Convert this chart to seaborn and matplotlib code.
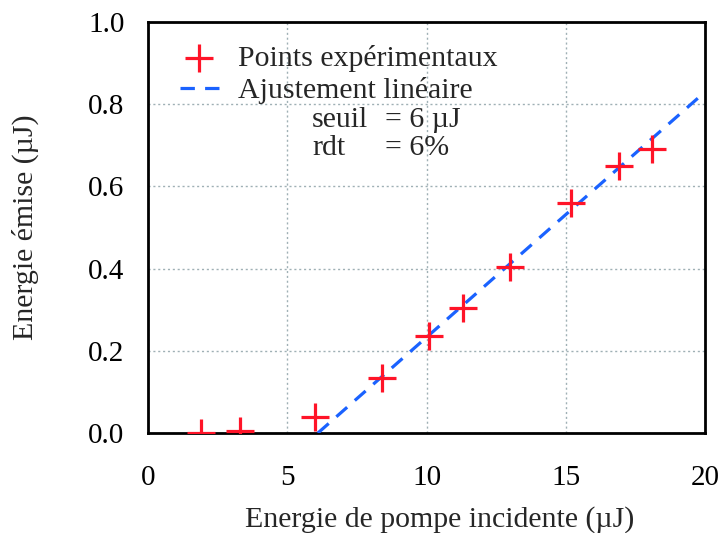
import matplotlib
matplotlib.use("Agg")
import matplotlib.pyplot as plt
import seaborn as sns

# Data
pompe = [1.9, 3.3, 6.0, 8.4, 10.1, 11.3, 13.0, 15.2, 16.9, 18.1]
emise = [0.0, 0.005, 0.04, 0.135, 0.235, 0.305, 0.405, 0.56, 0.65, 0.69]

fit_x = [6.1, 20.0]
fit_y = [0.0, 0.83]

x_ticks = [0, 5, 10, 15, 20]
y_ticks = [0.0, 0.2, 0.4, 0.6, 0.8, 1.0]

sns.set_style("white")
plt.rcParams["font.family"] = ["Liberation Serif", "DejaVu Serif"]

fig = plt.figure(figsize=(7.22, 5.33), dpi=100)
ax = fig.add_axes([0.205, 0.1876, 0.7715, 0.7711])

red = "#ff1428"
blue = "#1a62ff"
fs = 21.5

sns.scatterplot(x=pompe, y=emise, marker="+", s=380, color=red,
                linewidth=2.3, label="Points expérimentaux", ax=ax, zorder=4)
sns.lineplot(x=fit_x, y=fit_y, color=blue, linewidth=2.3,
             linestyle=(0, (4.5, 3.2)), label="Ajustement linéaire", ax=ax, zorder=3)

ax.set_xlim(0, 20)
ax.set_ylim(0, 1.0)
ax.set_xticks(x_ticks)
ax.set_xticklabels([str(v) for v in x_ticks])
ax.set_yticks(y_ticks)
ax.set_yticklabels([f"{v:.1f}" for v in y_ticks])

ax.grid(True, linestyle=(0, (1.5, 2)), color="#9fb0b5", linewidth=1.0)
ax.set_axisbelow(True)

for s in ax.spines.values():
    s.set_color("black")
    s.set_linewidth(2.0)

ax.tick_params(axis="both", which="major", direction="out", length=14,
               width=2.0, labelsize=21, colors="black")
ax.tick_params(axis="x", pad=9)
ax.tick_params(axis="y", pad=3)

ax.set_xlabel("Energie de pompe incidente (µJ)", fontsize=fs)
ax.set_ylabel("Energie émise (µJ)", fontsize=fs)
ax.xaxis.set_label_coords(0.524, -0.21)
ax.xaxis.label.set_va("center")
ax.yaxis.set_label_coords(-0.221, 0.5)
ax.yaxis.label.set_va("center")

ax.legend(loc="upper left", frameon=False, fontsize=fs,
          bbox_to_anchor=(0.0, 1.022), handlelength=1.3,
          handletextpad=0.63, borderaxespad=0.67, labelspacing=0.17)

ax.text(0.2944, 0.7616, "seuil", transform=ax.transAxes,
        fontsize=fs, va="center", ha="left")
ax.text(0.4255, 0.7616, "= 6 µJ", transform=ax.transAxes,
        fontsize=fs, va="center", ha="left")
ax.text(0.2944, 0.6934, "rdt", transform=ax.transAxes,
        fontsize=fs, va="center", ha="left")
ax.text(0.4255, 0.6934, "= 6%", transform=ax.transAxes,
        fontsize=fs, va="center", ha="left")

fig.savefig("out.png", dpi=100)
plt.close(fig)
